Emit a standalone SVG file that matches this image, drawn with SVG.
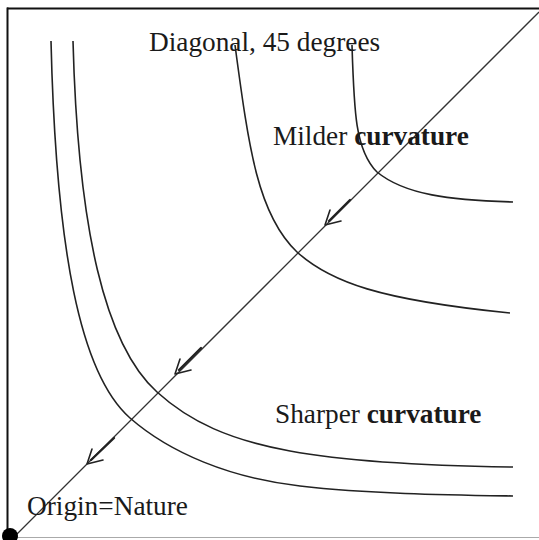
<svg xmlns="http://www.w3.org/2000/svg" width="539" height="540" viewBox="0 0 539 540">
<style>
.frame{stroke:#111;fill:none}
.curve{stroke:#222;stroke-width:1.6;fill:none}
.diag{stroke:#333;stroke-width:1.3;fill:none}
.head{stroke:#222;stroke-width:1.6;fill:none;stroke-linecap:round;stroke-linejoin:round}
.shaft{stroke:#222;stroke-width:2.4;stroke-linecap:round}
text{font-family:"Liberation Serif","Times New Roman",serif;font-size:27.3px;fill:#1a1a1a}
.b{font-weight:bold}
</style>
<rect width="539" height="540" fill="#fff"/>
<g id="frame">
<line class="frame" x1="7" y1="8.5" x2="539" y2="8.5" stroke-width="1.8"/>
<line class="frame" x1="7.5" y1="7.5" x2="7.5" y2="540" stroke-width="2"/>
<line x1="7" y1="537.5" x2="539" y2="537.5" stroke="#aaa" stroke-width="1"/>
</g>
<g id="connectors">
<line id="diagonal" class="diag" x1="14" y1="537" x2="539" y2="12"/>
<g id="arrow1">
<line class="shaft" x1="329" y1="221" x2="350" y2="200"/>
<polyline class="head" points="330,210 325,225 341,221"/>
</g>
<g id="arrow2">
<line class="shaft" x1="179" y1="370" x2="201" y2="348"/>
<polyline class="head" points="180,359 175,374 191,370"/>
</g>
<g id="arrow3">
<line class="shaft" x1="91" y1="460" x2="114" y2="438"/>
<polyline class="head" points="92,449 87,464 103,460"/>
</g>
</g>
<g id="curveA"><path class="curve" d="M51,41 C56,250 80,374 130,418 C170,453 230,478 300,486 C370,494 450,495 513,496"/></g>
<g id="curveB"><path class="curve" d="M73,41 C78,230 105,345 157,392 C190,422 230,440 290,451 C350,462 440,466 513,467"/></g>
<g id="curveC"><path class="curve" d="M235,45 C249,150 258,215 297,252 C330,282 380,300 510,313"/></g>
<g id="curveD"><path class="curve" d="M352,45 C354,110 355,150 377,172 C405,195 450,200 513,202"/></g>
<g id="origin"><circle cx="10" cy="536" r="8" fill="#000"/></g>
<g id="labels">
<text x="149" y="51">Diagonal, 45 degrees</text>
<text x="273" y="145">Milder <tspan class="b">curvature</tspan></text>
<text x="275" y="423">Sharper <tspan class="b">curvature</tspan></text>
<text x="27" y="515">Origin=Nature</text>
</g>
</svg>
